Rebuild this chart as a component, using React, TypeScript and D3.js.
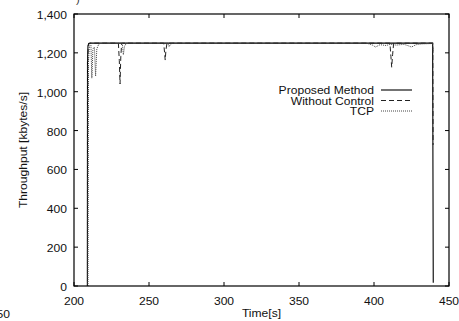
import React from "react";
import * as d3 from "d3";

const xTicks = [200, 250, 300, 350, 400, 450];
const yTicks = [0, 200, 400, 600, 800, 1000, 1200, 1400];

// [time s, throughput kbytes/s]
const proposed: [number, number][] = [
  [208.9, 0], [209.0, 1150], [209.3, 1235], [209.8, 1248], [211, 1250],
  [300, 1250], [380, 1250], [439.1, 1250], [439.3, 600], [439.5, 17],
];
const withoutControl: [number, number][] = [
  [209.0, 0], [209.2, 1180], [209.6, 1240], [210.3, 1250],
  [229.6, 1250], [230.2, 1160], [230.7, 1040], [231.2, 1180], [231.8, 1250],
  [259.8, 1250], [260.4, 1200], [260.8, 1163], [261.3, 1215], [262, 1250],
  [410.6, 1250], [411.3, 1180], [411.8, 1126], [412.4, 1190], [413.1, 1250],
  [439.2, 1250], [439.4, 726],
];
const tcp: [number, number][] = [
  [209.3, 0], [209.6, 1150], [210.2, 1235], [211.3, 1240], [211.9, 1070],
  [212.6, 1220], [213.6, 1230], [214.4, 1080], [215.2, 1220], [216.5, 1245],
  [218, 1250], [232.2, 1250], [232.9, 1190], [233.7, 1235], [235, 1250],
  [262.6, 1250], [263.4, 1232], [264.4, 1245], [266, 1250],
  [395, 1250], [399, 1240], [401, 1230], [404, 1242], [408, 1238], [411, 1244],
  [415, 1240], [420, 1244], [423, 1236], [425, 1230], [428, 1242], [432, 1246],
  [439.2, 1248], [439.5, 1200],
];

const seriesNames = ["Proposed Method", "Without Control", "TCP"];

export default function App() {
  const W = 459, H = 321;
  const x = d3.scaleLinear().domain([200, 450]).range([74, 449]);
  const y = d3.scaleLinear().domain([0, 1400]).range([286, 14]);
  const line = d3.line<[number, number]>().x((d) => x(d[0])).y((d) => y(d[1]));
  const fmt = d3.format(",");
  const font = "Liberation Sans, Arial, sans-serif";
  const fs = 11;
  const sx = 1.1;
  const styles = [
    { stroke: "#000", dash: "", width: 1.1 },
    { stroke: "#222", dash: "5,3", width: 1 },
    { stroke: "#444", dash: "1,1", width: 1 },
  ];
  const data = [proposed, withoutControl, tcp];
  const txt = (s: string, tx: number, ty: number, anchor: string, key?: any) => (
    <text key={key} transform={`translate(${tx},${ty}) scale(${sx},1)`} textAnchor={anchor}
      fontFamily={font} fontSize={fs} fill="#111">{s}</text>
  );
  const [x0, x1] = x.range();
  const [y0, y1] = y.range();
  return (
    <svg width={W} height={H} style={{ position: "absolute", left: 0, top: 0, background: "#fff" }}>
      <rect x={0} y={0} width={W} height={H} fill="#fff" />
      {/* series */}
      {data.map((d, i) => (
        <path key={i} d={line(d) || ""} fill="none" stroke={styles[i].stroke}
          strokeWidth={styles[i].width} strokeDasharray={styles[i].dash} />
      ))}
      {/* frame */}
      <rect x={x0} y={y1} width={x1 - x0} height={y0 - y1} fill="none" stroke="#000" strokeWidth={1.2} />
      {xTicks.map((t) => (
        <g key={"x" + t}>
          <line x1={x(t)} x2={x(t)} y1={y0} y2={y0 - 4} stroke="#000" />
          <line x1={x(t)} x2={x(t)} y1={y1} y2={y1 + 4} stroke="#000" />
          {txt(String(t), x(t), 305, "middle")}
        </g>
      ))}
      {yTicks.map((t) => (
        <g key={"y" + t}>
          <line x1={x0} x2={x0 + 4} y1={y(t)} y2={y(t)} stroke="#000" />
          <line x1={x1} x2={x1 - 4} y1={y(t)} y2={y(t)} stroke="#000" />
          {txt(fmt(t), 67, y(t) + 5, "end")}
        </g>
      ))}
      {/* axis titles */}
      <text transform={`translate(27,${(y0 + y1) / 2}) rotate(-90) scale(${sx},1)`} textAnchor="middle"
        fontFamily={font} fontSize={fs} fill="#111">Throughput [kbytes/s]</text>
      {txt("Time[s]", (x0 + x1) / 2, 317, "middle")}
      {/* legend */}
      {seriesNames.map((n, i) => (
        <g key={n}>
          {txt(n, 374, 94 + i * 10.5, "end")}
          <line x1={381} x2={412} y1={90 + i * 10.5} y2={90 + i * 10.5} stroke={styles[i].stroke}
            strokeWidth={styles[i].width} strokeDasharray={styles[i].dash} />
        </g>
      ))}
      {/* fragments of neighbouring content */}
      {txt("150", 10, 318, "end")}
      <text x={76} y={3} fontFamily={font} fontSize={fs} fill="#333">)</text>
    </svg>
  );
}
